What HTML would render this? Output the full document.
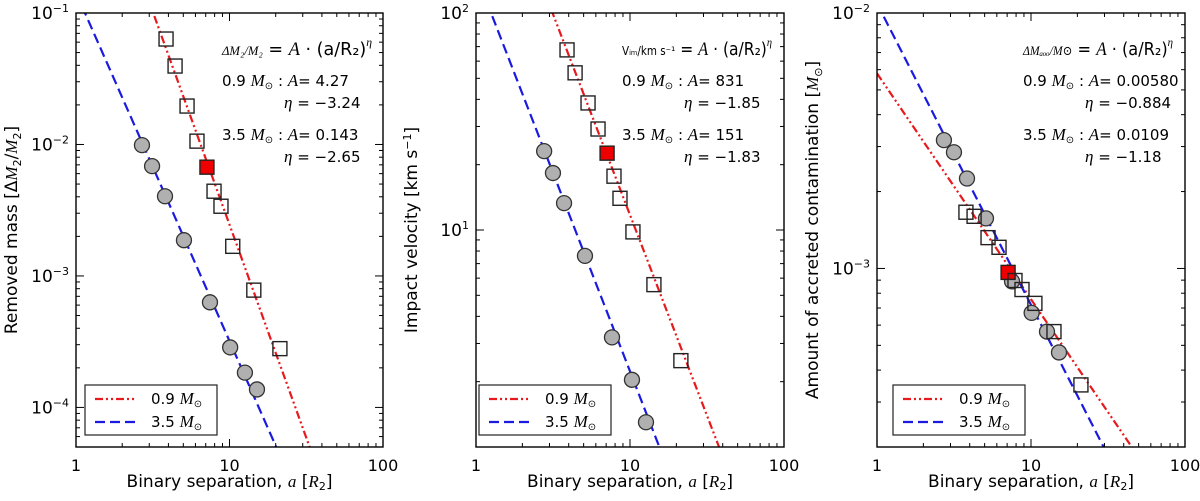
<!DOCTYPE html>
<html><head><meta charset="utf-8"><style>
html,body{margin:0;padding:0;background:#fff;overflow:hidden;width:1200px;height:501px;}
svg{display:block;font-family:"DejaVu Sans","Liberation Sans",sans-serif;overflow:hidden;}
.it{font-family:"Liberation Serif","DejaVu Serif",serif;font-style:italic;}
</style></head><body>
<svg id="chart" width="1200" height="501" viewBox="0 0 1200 501" xmlns="http://www.w3.org/2000/svg"></svg>
<script>
// ---- Panel 1: removed mass ----
const p1SqX = [3.86,4.42,5.29,6.14,7.13,7.93,8.8,10.5,14.4,21.3];
const p1SqY = [0.0634,0.0395,0.0196,0.0106,0.00672,0.00441,0.00339,0.00168,0.00078,0.00028];
const p1CiX = [2.69,3.13,3.8,5.05,7.46,10.1,12.6,15.1];
const p1CiY = [0.00989,0.00684,0.00404,0.00187,0.00063,0.000286,0.000184,0.000137];
const p1Fit = [4.27,-3.24,0.143,-2.65];
const p1YRange = [5e-5,0.1];
const p1YTicks = [-4,-3,-2,-1];
// ---- Panel 2: impact velocity ----
const p2SqX = [3.9,4.4,5.34,6.2,7.1,7.87,8.61,10.45,14.3,21.4];
const p2SqY = [67.6,53,38.5,29.2,22.6,17.7,14,9.8,5.6,2.5];
const p2CiX = [2.77,3.16,3.73,5.1,7.64,10.3,12.7];
const p2CiY = [23.1,18.3,13.3,7.6,3.2,2.04,1.3];
const p2Fit = [831,-1.85,151,-1.83];
const p2YRange = [1,100];
const p2YTicks = [1,2];
// ---- Panel 3: accreted contamination ----
const p3SqX = [3.78,4.27,5.26,6.2,7.1,7.87,8.74,10.6,14.1,21.1];
const p3SqY = [0.00166,0.0016,0.00132,0.00121,0.000965,0.000897,0.000827,0.00073,0.000566,0.00035];
const p3CiX = [2.72,3.16,3.84,5.1,7.53,10.1,12.7,15.2];
const p3CiY = [0.00318,0.00285,0.00225,0.00157,0.00089,0.00067,0.000566,0.000469];
const p3Fit = [0.0058,-0.884,0.0109,-1.18];
const p3YRange = [2e-4,0.01];
const p3YTicks = [-3,-2];
const redIndex = 4;

const NS='http://www.w3.org/2000/svg';
const svg=document.getElementById('chart');
function mk(tag,attrs,parent,text){const e=document.createElementNS(NS,tag);for(const k in attrs)e.setAttribute(k,attrs[k]);if(text!==undefined)e.textContent=text;(parent||svg).appendChild(e);return e;}

const RED_DASH='8,3,2,3,2,3', BLUE_DASH='10,5';
const TOP=13,BOT=447;
function panel(idx,left,right,sqX,sqY,ciX,ciY,fit,yr,yTicks,ylabelParts,formula,fitTxt){
  const g=mk('g',{});
  
  
  const lx0=0,lx1=2;
  const ly0=Math.log10(yr[0]),ly1=Math.log10(yr[1]);
  const X=v=>left+(Math.log10(v)-lx0)/(lx1-lx0)*(right-left);
  const Y=v=>BOT-(Math.log10(v)-ly0)/(ly1-ly0)*(BOT-TOP);
  const clip='clip'+idx;
  const cp=mk('clipPath',{id:clip},g);mk('rect',{x:left,y:TOP,width:right-left,height:BOT-TOP},cp);
  const fg=mk('g',{'clip-path':'url(#'+clip+')'},g);
  const red=mk('line',{x1:X(1),y1:Y(fit[0]),x2:X(100),y2:Y(fit[0]*Math.pow(100,fit[1])),stroke:'#e8191c','stroke-width':2.2,'stroke-dasharray':RED_DASH},fg);
  
  
  const blue=mk('line',{x1:X(1),y1:Y(fit[2]),x2:X(100),y2:Y(fit[2]*Math.pow(100,fit[3])),stroke:'#1a1ae0','stroke-width':2.2,'stroke-dasharray':BLUE_DASH},fg);
  
  
  for(let i=0;i<ciX.length;i++){
    const c=mk('circle',{cx:X(ciX[i]),cy:Y(ciY[i]),r:7.5,fill:'#b0b0b0',stroke:'#333','stroke-width':1.3},g);
    
    
  }
  for(let i=0;i<sqX.length;i++){
    const s=mk('rect',{x:X(sqX[i])-7,y:Y(sqY[i])-7,width:14,height:14,fill:i===redIndex?'#ee0000':'none',stroke:'#222','stroke-width':1.4},g);
    
    
  }
  mk('rect',{x:left,y:TOP,width:right-left,height:BOT-TOP,fill:'none',stroke:'#000','stroke-width':1.4},g);
  for(let d=0;d<2;d++)for(let m=1;m<=10;m++){
    const v=Math.pow(10,d)*m;if(m===10&&d===0)continue;
    const px=X(v);const len=(m===1||m===10)?8:4;
    mk('line',{x1:px,y1:BOT,x2:px,y2:BOT-len,stroke:'#000','stroke-width':1},g);
    mk('line',{x1:px,y1:TOP,x2:px,y2:TOP+len,stroke:'#000','stroke-width':1},g);
  }
  [1,10,100].forEach(v=>{const t=mk('text',{x:X(v),y:471,'font-size':16,'text-anchor':'middle'},g,String(v));
    });
  for(let d=Math.floor(ly0);d<=Math.ceil(ly1);d++)for(let m=1;m<10;m++){
    const v=Math.pow(10,d)*m;if(v<yr[0]*0.999||v>yr[1]*1.001)continue;
    const py=Y(v);const len=m===1?8:4;
    mk('line',{x1:left,y1:py,x2:left+len,y2:py,stroke:'#000','stroke-width':1},g);
    mk('line',{x1:right,y1:py,x2:right-len,y2:py,stroke:'#000','stroke-width':1},g);
  }
  yTicks.forEach(e=>{const py=Y(Math.pow(10,e));
    const t=mk('text',{x:left-7,y:py+6,'font-size':17,'text-anchor':'end'},g);
    
    mk('tspan',{},t,'10');mk('tspan',{dy:-7,'font-size':11},t,(e<0?'\u2212':'')+Math.abs(e));});
  const cx=(left+right)/2;
  const xt=mk('text',{x:cx,y:487,'font-size':17,'text-anchor':'middle'},g);
  
  mk('tspan',{},xt,'Binary separation, ');mk('tspan',{class:'it'},xt,'a');mk('tspan',{},xt,'  [');mk('tspan',{class:'it'},xt,'R');mk('tspan',{dy:3,'font-size':11},xt,'2');mk('tspan',{dy:-3},xt,']');
  const yt=mk('text',{transform:'translate('+(left-59)+','+((TOP+BOT)/2)+') rotate(-90)','font-size':17,'text-anchor':'middle'},g);
  
  ylabelParts.forEach(p=>mk('tspan',p[1],yt,p[0]));
  const ax=left+146;
  const fo=mk('text',{x:ax,y:55,'font-size':14,textLength:150,lengthAdjust:'spacingAndGlyphs'},g);
  
  formula.forEach(p=>mk('tspan',p[1],fo,p[0]));
  const rows=[['0.9',fitTxt[0],fitTxt[1],86],['3.5',fitTxt[2],fitTxt[3],140]];
  rows.forEach(r=>{
    const t=mk('text',{x:ax,y:r[3],'font-size':15},g);
    
    mk('tspan',{},t,r[0]+' ');mk('tspan',{class:'it','font-size':17},t,'M');mk('tspan',{dy:3,'font-size':10},t,'\u2299');mk('tspan',{dy:-3},t,' :  ');
    mk('tspan',{class:'it','font-size':17},t,'A');mk('tspan',{},t,'= '+r[1]);
    const t2=mk('text',{x:ax+62,y:r[3]+22,'font-size':15},g);
    
    mk('tspan',{class:'it','font-size':17},t2,'\u03B7');mk('tspan',{},t2,' = \u2212'+r[2]);
  });
  const lg=mk('g',{},g);
  
  const lxo=left+(idx===3?16:(idx===2?3:9));
  mk('rect',{x:lxo,y:385,width:132,height:50,fill:'#fff',stroke:'#222','stroke-width':1.2},lg);
  [['0.9','#e8191c',RED_DASH,404],['3.5','#1a1ae0',BLUE_DASH,427]].forEach(e=>{
    const l=mk('line',{x1:lxo+10,y1:e[3]-5,x2:lxo+50,y2:e[3]-5,stroke:e[1],'stroke-width':2.2,'stroke-dasharray':e[2]},lg);
    
    const t=mk('text',{x:lxo+66,y:e[3],'font-size':15},lg);
    
    mk('tspan',{},t,e[0]+' ');mk('tspan',{class:'it','font-size':17},t,'M');mk('tspan',{dy:3,'font-size':10},t,'\u2299');
  });
}
panel(1,76,383,p1SqX,p1SqY,p1CiX,p1CiY,p1Fit,p1YRange,p1YTicks,
 [['Removed mass  [\u0394',{}],['M',{class:'it'}],['2',{dy:4,'font-size':11}],['/',{dy:-4}],['M',{class:'it'}],['2',{dy:4,'font-size':11}],[']',{dy:-4}]],
 [['\u0394M\u2082/M\u2082',{class:'it','font-size':13}],[' = ',{'font-size':18}],['A',{class:'it','font-size':19}],[' \u00B7 (a/R\u2082)',{'font-size':18}],['\u03B7',{dy:-9,'font-size':12,class:'it'}]],
 ['4.27','3.24','0.143','2.65']);
panel(2,476,784,p2SqX,p2SqY,p2CiX,p2CiY,p2Fit,p2YRange,p2YTicks,
 [['Impact velocity  [km s',{}],['\u22121',{dy:-6,'font-size':11}],[']',{dy:6}]],
 [['V\u1D62\u2098/km s\u207B\u00B9',{'font-size':12}],[' = ',{'font-size':18}],['A',{class:'it','font-size':19}],[' \u00B7 (a/R\u2082)',{'font-size':18}],['\u03B7',{dy:-9,'font-size':12,class:'it'}]],
 ['831','1.85','151','1.83']);
panel(3,877,1185,p3SqX,p3SqY,p3CiX,p3CiY,p3Fit,p3YRange,p3YTicks,
 [['Amount of accreted contamination  [',{}],['M',{class:'it'}],['\u2299',{dy:4,'font-size':11}],[']',{dy:-4}]],
 [['\u0394M\u2090\u2092\u2092/M\u2299',{class:'it','font-size':13}],[' = ',{'font-size':18}],['A',{class:'it','font-size':19}],[' \u00B7 (a/R\u2082)',{'font-size':18}],['\u03B7',{dy:-9,'font-size':12,class:'it'}]],
 ['0.00580','0.884','0.0109','1.18']);
</script>
</body></html>
